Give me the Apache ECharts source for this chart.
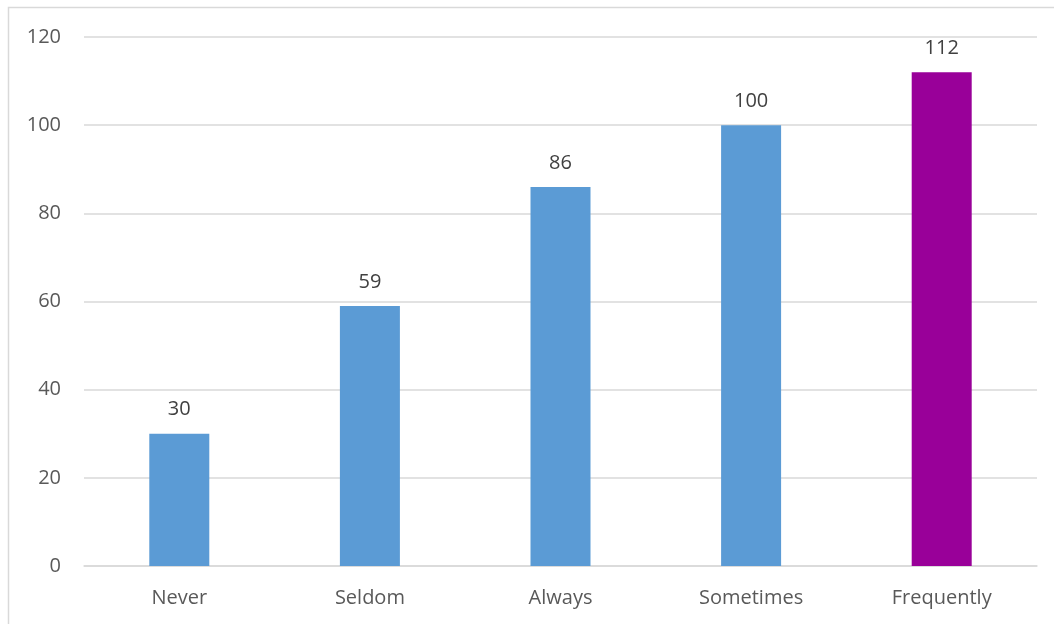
<!DOCTYPE html>
<html>
<head>
<meta charset="utf-8">
<script src="https://cdn.jsdelivr.net/npm/echarts@6/dist/echarts.min.js"></script>
<style>
html,body{margin:0;padding:0;background:#fff;}
#chart{width:1054px;height:624px;}
</style>
</head>
<body>
<div id="chart"></div>
<script>
const categories = ["Never", "Seldom", "Always", "Sometimes", "Frequently"];
const values = [30, 59, 86, 100, 112];
const barColors = ["#5B9BD5", "#5B9BD5", "#5B9BD5", "#5B9BD5", "#990099"];
const yTicks = [0, 20, 40, 60, 80, 100, 120];

const chart = echarts.init(document.getElementById('chart'), null, {renderer: 'canvas'});
const font = "'Open Sans', 'Liberation Sans', sans-serif";
chart.setOption({
  animation: false,
  backgroundColor: '#ffffff',
  graphic: [{
    type: 'rect',
    shape: {x: 8.5, y: 7.5, width: 1100, height: 700},
    style: {fill: 'none', stroke: '#d9d9d9', lineWidth: 1.5},
    silent: true
  }],
  grid: {left: 84, right: 17, top: 37, bottom: 58, containLabel: false},
  xAxis: {
    type: 'category',
    data: categories,
    axisLine: {show: true, lineStyle: {color: '#d9d9d9', width: 1.5}},
    axisTick: {show: false},
    axisLabel: {color: '#595959', fontSize: 20, fontFamily: font, margin: 22}
  },
  yAxis: {
    type: 'value',
    min: yTicks[0],
    max: yTicks[yTicks.length - 1],
    interval: 20,
    axisLine: {show: false},
    axisTick: {show: false},
    splitLine: {lineStyle: {color: '#d9d9d9', width: 1.5}},
    axisLabel: {color: '#595959', fontSize: 20, fontFamily: font, margin: 23}
  },
  series: [{
    type: 'bar',
    data: values.map((v, i) => ({value: v, itemStyle: {color: barColors[i]}})),
    barWidth: 60,
    label: {show: true, position: 'top', distance: 14, color: '#404040', fontSize: 20, fontFamily: font}
  }]
});
</script>
</body>
</html>
